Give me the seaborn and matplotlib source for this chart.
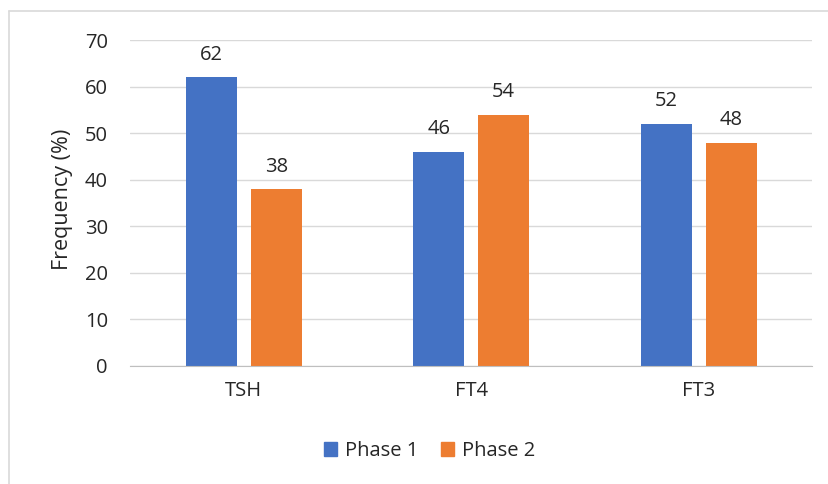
import matplotlib.pyplot as plt
import matplotlib.patches as mpatches
from matplotlib.lines import Line2D
import pandas as pd
import seaborn as sns

# values
tests = ['TSH', 'FT4', 'FT3']
phase1 = [62, 46, 52]
phase2 = [38, 54, 48]
phases = ['Phase 1', 'Phase 2']
colors = ['#4472C4', '#ED7D31']

sns.set_style("white")
plt.rcParams['font.family'] = ['Open Sans', 'DejaVu Sans']
txt = '#262626'

df = pd.DataFrame({
    'test': tests * 2,
    'phase': [phases[0]] * 3 + [phases[1]] * 3,
    'freq': phase1 + phase2,
})

fig = plt.figure(figsize=(8.29, 4.84), dpi=100)
ax = fig.add_axes([0.157, 0.244, 0.823, 0.673])

sns.barplot(data=df, x='test', y='freq', hue='phase', palette=colors,
            width=0.57, gap=0.215, ax=ax, saturation=1, legend=False,
            linewidth=0)

for cont in ax.containers:
    ax.bar_label(cont, padding=9, fontsize=14.5, color=txt)

ax.set_ylim(0, 70)
ax.set_yticks(range(0, 71, 10))
ax.yaxis.grid(True, color='#D9D9D9', linewidth=1)
ax.set_axisbelow(True)
for s in ['left', 'right', 'top']:
    ax.spines[s].set_visible(False)
ax.spines['bottom'].set_color('#BFBFBF')
ax.tick_params(axis='y', length=0, labelsize=14.5, colors=txt, pad=16)
ax.tick_params(axis='x', length=0, labelsize=14.5, colors=txt, pad=11)
ax.set_xlabel('')
ax.set_ylabel('Frequency (%)', fontsize=15.5, color=txt)
ax.yaxis.set_label_coords(-0.084, 0.51)

handles = [mpatches.Patch(color=c, label=p) for c, p in zip(colors, phases)]
fig.legend(handles=handles, loc='center', bbox_to_anchor=(0.518, 0.068), ncol=2,
           frameon=False, fontsize=14.5, handlelength=0.65, handleheight=0.65,
           columnspacing=1.1, handletextpad=0.4, labelcolor=txt)

# cropped chart-area border (top and left only)
fig.add_artist(Line2D([9 / 829, 1], [1 - 11 / 484, 1 - 11 / 484], transform=fig.transFigure,
                      color='#D9D9D9', linewidth=1.2))
fig.add_artist(Line2D([9 / 829, 9 / 829], [0, 1 - 11 / 484], transform=fig.transFigure,
                      color='#D9D9D9', linewidth=1.2))

fig.savefig('out.png', dpi=100)
